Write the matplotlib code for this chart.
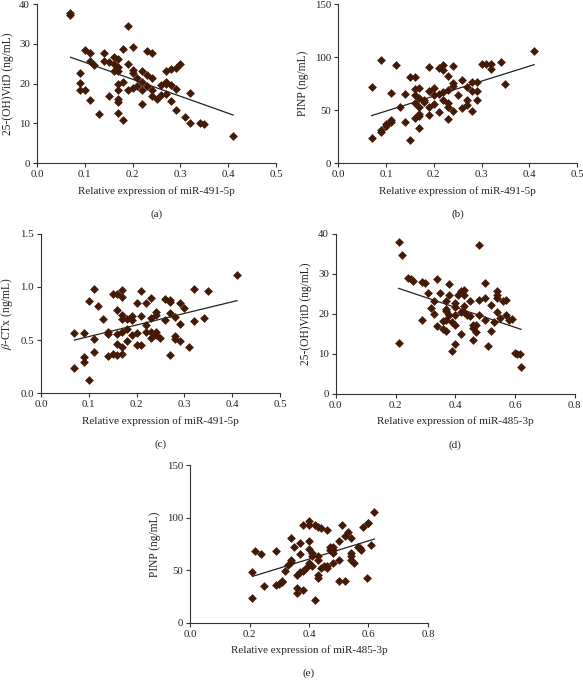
import numpy as np
import matplotlib
matplotlib.use("Agg")
import matplotlib.pyplot as plt

plt.rcParams['font.family'] = ['Liberation Serif', 'DejaVu Serif']
plt.rcParams['mathtext.fontset'] = 'stix'

POINT_COLOR = '#431a05'
AXIS_COLOR = '#333333'

# ---- (a) miR-491-5p vs 25-(OH)VitD ----
a_x = [0.07, 0.07, 0.19, 0.10, 0.11, 0.14, 0.16, 0.17, 0.20, 0.18, 0.23, 0.24, 0.30,
       0.11, 0.12, 0.14, 0.15, 0.16, 0.17, 0.16, 0.17, 0.19, 0.20, 0.20, 0.22, 0.23,
       0.24, 0.21, 0.27, 0.28, 0.29, 0.09, 0.09, 0.09, 0.10, 0.11, 0.13, 0.15, 0.17,
       0.17, 0.18, 0.17, 0.17, 0.17, 0.18, 0.19, 0.20, 0.21, 0.22, 0.22, 0.23, 0.24,
       0.24, 0.25, 0.26, 0.26, 0.27, 0.27, 0.28, 0.29, 0.27, 0.28, 0.29, 0.31, 0.32,
       0.32, 0.34, 0.35, 0.41, 0.22]
a_y = [37.8, 37.3, 34.5, 28.5, 27.8, 27.8, 26.6, 26.2, 29.1, 28.7, 28.1, 27.7, 25.0,
       25.6, 24.6, 25.6, 25.4, 24.9, 24.3, 23.3, 23.3, 25.0, 23.5, 22.8, 23.2, 22.2,
       21.4, 21.4, 23.2, 23.6, 23.9, 22.6, 20.1, 18.3, 18.4, 15.9, 12.4, 16.8, 18.4,
       19.9, 20.3, 16.1, 15.5, 12.6, 10.9, 18.4, 18.9, 19.3, 18.3, 14.9, 19.5, 18.4,
       16.8, 16.2, 17.2, 19.7, 20.5, 19.9, 19.7, 18.6, 17.4, 15.7, 13.4, 11.7, 10.2,
       17.6, 10.1, 9.9, 6.9, 20.5]

# ---- (b) miR-491-5p vs PINP ----
b_x = [0.07, 0.07, 0.09, 0.09, 0.09, 0.10, 0.10, 0.11, 0.11, 0.11, 0.12, 0.13, 0.14,
       0.14, 0.15, 0.15, 0.16, 0.16, 0.16, 0.16, 0.16, 0.17, 0.17, 0.17, 0.17, 0.17,
       0.17, 0.18, 0.18, 0.19, 0.19, 0.19, 0.19, 0.20, 0.20, 0.20, 0.21, 0.21, 0.21,
       0.22, 0.22, 0.22, 0.22, 0.23, 0.23, 0.23, 0.23, 0.24, 0.24, 0.24, 0.24, 0.23,
       0.25, 0.26, 0.26, 0.27, 0.27, 0.27, 0.28, 0.28, 0.28, 0.29, 0.29, 0.29, 0.30,
       0.31, 0.32, 0.32, 0.34, 0.35, 0.41]
b_y = [24, 71.5, 97, 31, 29, 37, 35, 39, 41, 66.5, 93, 53, 65,
       39, 81, 22, 81, 70, 56.5, 43, 64, 70.6, 61, 53, 46, 44.5,
       33, 60, 58, 91, 68, 53, 45.5, 70.6, 64, 56, 89.4, 65, 48.6,
       92.6, 88, 67.5, 60, 82, 56.5, 53, 42, 91.6, 76, 73, 49.6, 69,
       64, 78, 52, 72, 60, 55, 77, 68.4, 49.6, 77, 68.4, 59.6, 93.5,
       93.5, 93.5, 88.5, 95, 74.4, 105.5]

# ---- (c) miR-491-5p vs beta-CTx ----
c_x = [0.07, 0.07, 0.09, 0.09, 0.09, 0.10, 0.10, 0.11, 0.11, 0.11, 0.12, 0.13, 0.14,
       0.14, 0.14, 0.15, 0.15, 0.16, 0.16, 0.16, 0.16, 0.16, 0.17, 0.17, 0.17, 0.17,
       0.17, 0.17, 0.17, 0.18, 0.18, 0.18, 0.19, 0.19, 0.19, 0.20, 0.20, 0.20, 0.21,
       0.21, 0.21, 0.22, 0.22, 0.22, 0.23, 0.23, 0.23, 0.23, 0.24, 0.24, 0.24, 0.24,
       0.25, 0.26, 0.26, 0.27, 0.27, 0.27, 0.27, 0.28, 0.28, 0.28, 0.29, 0.29, 0.29,
       0.30, 0.31, 0.32, 0.32, 0.34, 0.35, 0.41]
c_y = [0.566, 0.236, 0.566, 0.34, 0.29, 0.87, 0.126, 0.98, 0.51, 0.39, 0.82, 0.70, 0.575,
       0.556, 0.35, 0.93, 0.37, 0.93, 0.78, 0.556, 0.465, 0.36, 0.97, 0.91, 0.74, 0.70,
       0.58, 0.43, 0.37, 0.695, 0.60, 0.49, 0.73, 0.69, 0.55, 0.85, 0.57, 0.45, 0.96,
       0.73, 0.45, 0.85, 0.64, 0.575, 0.90, 0.71, 0.58, 0.52, 0.76, 0.74, 0.58, 0.544,
       0.52, 0.89, 0.69, 0.88, 0.86, 0.755, 0.36, 0.72, 0.535, 0.51, 0.85, 0.65, 0.49,
       0.80, 0.43, 0.98, 0.68, 0.71, 0.96, 1.11]

# ---- (d) miR-485-3p vs 25-(OH)VitD ----
d_x = [0.21, 0.22, 0.21, 0.24, 0.25, 0.26, 0.29, 0.30, 0.29, 0.31, 0.32, 0.33, 0.33,
       0.34, 0.34, 0.35, 0.36, 0.36, 0.37, 0.37, 0.37, 0.37, 0.37, 0.38, 0.38, 0.38,
       0.39, 0.39, 0.40, 0.40, 0.40, 0.40, 0.40, 0.41, 0.42, 0.42, 0.42, 0.43, 0.43,
       0.43, 0.43, 0.44, 0.45, 0.45, 0.46, 0.46, 0.46, 0.47, 0.47, 0.48, 0.48, 0.48,
       0.50, 0.50, 0.50, 0.51, 0.52, 0.52, 0.53, 0.54, 0.54, 0.54, 0.54, 0.55, 0.56,
       0.57, 0.57, 0.58, 0.59, 0.60, 0.605, 0.615, 0.62]
d_y = [37.9, 34.6, 12.7, 29.0, 28.6, 28.3, 28.0, 27.7, 18.4, 25.2, 21.5, 20.0, 23.3,
       28.7, 16.9, 25.2, 18.3, 16.2, 15.8, 23.1, 21.2, 20.6, 18.5, 27.5, 24.8, 19.8,
       18.0, 10.8, 21.6, 19.8, 22.7, 17.3, 12.4, 24.6, 25.8, 20.4, 15.0, 26.0, 24.8,
       21.9, 20.5, 19.8, 19.4, 23.1, 17.3, 16.5, 13.5, 15.4, 17.3, 37.3, 23.5, 19.8,
       27.7, 24.0, 18.5, 11.9, 22.3, 15.8, 18.0, 25.6, 24.8, 24.0, 20.5, 19.0, 23.3,
       23.5, 19.8, 18.5, 18.7, 10.3, 10.0, 9.9, 6.8]

# ---- (e) miR-485-3p vs PINP ----
e_x = [0.21, 0.21, 0.22, 0.24, 0.25, 0.29, 0.29, 0.30, 0.31, 0.31, 0.32, 0.33, 0.34,
       0.34, 0.34, 0.35, 0.36, 0.36, 0.36, 0.37, 0.37, 0.37, 0.38, 0.38, 0.38, 0.39,
       0.40, 0.40, 0.40, 0.40, 0.40, 0.41, 0.41, 0.41, 0.42, 0.42, 0.43, 0.43, 0.43,
       0.44, 0.43, 0.43, 0.44, 0.45, 0.46, 0.46, 0.46, 0.47, 0.47, 0.48, 0.48, 0.48,
       0.48, 0.50, 0.50, 0.50, 0.51, 0.52, 0.52, 0.53, 0.54, 0.54, 0.54, 0.54, 0.55,
       0.565, 0.57, 0.575, 0.58, 0.595, 0.60, 0.60, 0.61, 0.62]
e_y = [23.7, 48, 67.9, 65.7, 34.7, 67.9, 36.3, 37.3, 38.5, 39.5, 48.9, 55, 57.5,
       60, 80.5, 72.6, 45.8, 33, 28.4, 48, 76.4, 65.7, 93, 49, 31, 52,
       93, 57, 97.3, 78.3, 70, 66.3, 63.8, 53.7, 22.1, 93, 91, 45.8, 42.6,
       90, 63.8, 60, 52, 54.3, 53.7, 52, 88.4, 69.5, 72.6, 72, 69.5, 66.3,
       57, 78.3, 60, 39.5, 93, 82.7, 40, 86.8, 80.5, 66.3, 63.2, 60, 57,
       72.6, 71, 69.5, 91.6, 42.6, 94.7, 95.4, 74.2, 105.8]

panels = [
    dict(x=a_x, y=a_y, pos=[0.0635, 0.760, 0.410, 0.234], xmax=0.5, xstep=0.1,
         ymax=40, ystep=10, yfmt='{:.0f}', xlabel='Relative expression of miR-491-5p',
         ylabel='25-(OH)VitD (ng/mL)', tag='(a)'),
    dict(x=b_x, y=b_y, pos=[0.580, 0.760, 0.410, 0.234], xmax=0.5, xstep=0.1,
         ymax=150, ystep=50, yfmt='{:.0f}', xlabel='Relative expression of miR-491-5p',
         ylabel='PINP (ng/mL)', tag='(b)'),
    dict(x=c_x, y=c_y, pos=[0.0703, 0.422, 0.410, 0.234], xmax=0.5, xstep=0.1,
         ymax=1.5, ystep=0.5, yfmt='{:.1f}', xlabel='Relative expression of miR-491-5p',
         ylabel=r'$\beta$-CTx (ng/mL)', tag='(c)'),
    dict(x=d_x, y=d_y, pos=[0.576, 0.421, 0.410, 0.235], xmax=0.8, xstep=0.2,
         ymax=40, ystep=10, yfmt='{:.0f}', xlabel='Relative expression of miR-485-3p',
         ylabel='25-(OH)VitD (ng/mL)', tag='(d)'),
    dict(x=e_x, y=e_y, pos=[0.326, 0.084, 0.408, 0.232], xmax=0.8, xstep=0.2,
         ymax=150, ystep=50, yfmt='{:.0f}', xlabel='Relative expression of miR-485-3p',
         ylabel='PINP (ng/mL)', tag='(e)'),
]

fig = plt.figure(figsize=(5.83, 6.8), dpi=100)

for p in panels:
    ax = fig.add_axes(p['pos'])
    x = np.array(p['x'])
    y = np.array(p['y'])
    ax.scatter(x, y, marker='D', s=20, color=POINT_COLOR, linewidths=0, zorder=3)

    # linear trend line over the data range
    k, b = np.polyfit(x, y, 1)
    xs = np.array([x.min(), x.max()])
    ax.plot(xs, k * xs + b, color='#222222', lw=0.9, zorder=2)

    ax.set_xlim(0, p['xmax'])
    ax.set_ylim(0, p['ymax'])
    xt = np.arange(0, p['xmax'] + 1e-9, p['xstep'])
    yt = np.arange(0, p['ymax'] + 1e-9, p['ystep'])
    ax.set_xticks(xt)
    ax.set_xticklabels(['{:.1f}'.format(v) for v in xt])
    ax.set_yticks(yt)
    ax.set_yticklabels([p['yfmt'].format(v) for v in yt])
    for side in ['top', 'right']:
        ax.spines[side].set_visible(False)
    for side in ['left', 'bottom']:
        ax.spines[side].set_linewidth(0.8)
        ax.spines[side].set_color(AXIS_COLOR)
    ax.tick_params(direction='out', length=3, width=0.8, color=AXIS_COLOR,
                   labelsize=7.8, pad=2, labelcolor='#222222')
    ax.set_xlabel(p['xlabel'], fontsize=8, labelpad=5, color='#222222')
    ax.set_ylabel(p['ylabel'], fontsize=8.3, labelpad=4, color='#222222')
    ax.text(0.5, -0.32, p['tag'], transform=ax.transAxes, ha='center', va='center',
            fontsize=8, color='#222222')

fig.savefig('out.png', dpi=100)
